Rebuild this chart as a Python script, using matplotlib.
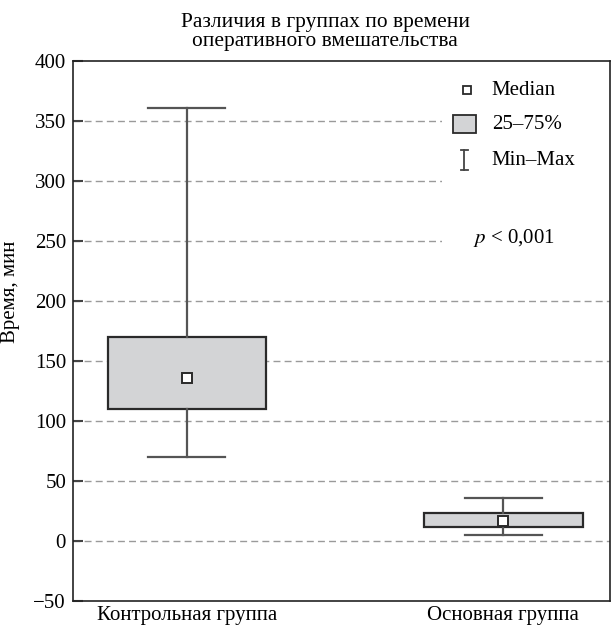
import numpy as np
import matplotlib.pyplot as plt
from matplotlib.patches import Rectangle

plt.rcParams['font.family'] = ['Liberation Serif', 'DejaVu Serif']
plt.rcParams['mathtext.fontset'] = 'stix'

# data (minutes)
groups = ["Контрольная группа", "Основная группа"]
mins = [70, 5]
q1 = [110, 11]
medians = [136, 16]
q3 = [170, 23]
maxs = [361, 36]

yticks = [-50, 0, 50, 100, 150, 200, 250, 300, 350, 400]

fig = plt.figure(figsize=(6.11, 6.30), dpi=100)
ax = fig.add_axes([0.1195, 0.0468, 0.8785, 0.8556])

stats = []
for i in range(len(groups)):
    stats.append(dict(med=medians[i], q1=q1[i], q3=q3[i],
                      whislo=mins[i], whishi=maxs[i], fliers=[]))

pos = [1, 2]
ax.bxp(stats, positions=pos, widths=0.5, patch_artist=True,
       showfliers=False,
       boxprops=dict(facecolor="#d3d4d6", edgecolor="#2a2a2a", linewidth=1.6),
       whiskerprops=dict(color="#555555", linewidth=1.6),
       capprops=dict(color="#555555", linewidth=1.6),
       capwidths=0.245,
       medianprops=dict(linewidth=0),
       zorder=3)
ax.plot(pos, medians, "s", ms=7, mfc="white", mec="#2a2a2a", mew=1.4,
        ls="none", zorder=5)

ax.set_xlim(0.641, 2.336)
ax.set_ylim(-50, 400)
ax.set_yticks(yticks)
ax.set_yticklabels([str(t).replace("-", "\u2212") for t in yticks], fontsize=15)
ax.set_xticks(pos)
ax.set_xticklabels(groups, fontsize=15)
ax.tick_params(axis="x", length=0, pad=4)
ax.tick_params(axis="y", direction="in", length=7, width=1.5,
               color="#444444", pad=5)

for t in yticks[1:-1]:
    ax.axhline(t, color="#9a9a9a", lw=1, ls=(0, (5, 3)), zorder=1)

for s in ax.spines.values():
    s.set_linewidth(1.2)
    s.set_color("#222222")

ax.set_ylabel("Время, мин", fontsize=15)
ax.yaxis.set_label_coords(-0.098, 0.572)

# legend area (white, hides grid lines)
ax.add_patch(Rectangle((0.687, 0.628), 0.313, 0.37, transform=ax.transAxes,
                       facecolor="white", edgecolor="none", zorder=2))
ax.plot([0.734], [0.947], "s", ms=6, mfc="white", mec="#2a2a2a", mew=1.3,
        transform=ax.transAxes, zorder=6)
ax.add_patch(Rectangle((0.708, 0.868), 0.043, 0.032, transform=ax.transAxes,
                       facecolor="#d3d4d6", edgecolor="#2a2a2a", lw=1.3,
                       zorder=6))
ax.plot([0.729, 0.729], [0.799, 0.835], color="#444444", lw=1.3,
        transform=ax.transAxes, zorder=6)
for yy in (0.799, 0.835):
    ax.plot([0.722, 0.736], [yy, yy], color="#444444", lw=1.3,
            transform=ax.transAxes, zorder=6)

ax.text(0.780, 0.947, "Median", fontsize=15, va="center", transform=ax.transAxes, zorder=7)
ax.text(0.780, 0.884, "25\u201375%", fontsize=15, va="center", transform=ax.transAxes, zorder=7)
ax.text(0.780, 0.817, "Min\u2013Max", fontsize=15, va="center", transform=ax.transAxes, zorder=7)
ax.text(0.745, 0.673, "$p$ < 0,001", fontsize=15, va="center",
        transform=ax.transAxes, zorder=7)

fig.text(0.532, 0.98, "Различия в группах по времени\nоперативного вмешательства",
         ha="center", va="top", fontsize=15.4, linespacing=1.05)

fig.savefig("out.png", dpi=100)
